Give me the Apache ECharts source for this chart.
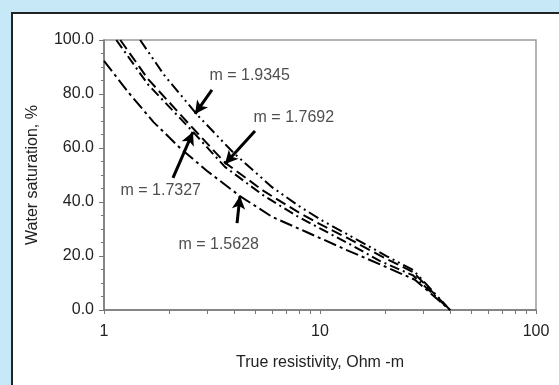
<!DOCTYPE html>
<html><head><meta charset="utf-8">
<script src="https://cdn.jsdelivr.net/npm/echarts@6/dist/echarts.min.js"></script>
<style>
html,body{margin:0;padding:0;background:#c6e8f7;width:559px;height:385px;overflow:hidden;position:relative;}
#panel{position:absolute;left:11px;top:12px;width:600px;height:400px;background:#fff;border:2px solid #222;box-sizing:border-box;}
#c{position:absolute;left:0;top:0;width:559px;height:385px;}
</style>
</head><body><div id="panel"></div><div id="c"></div>
<script>
// Tick values and labels
const xTickValues = [1,2,3,4,5,6,7,8,9,10,20,30,40,50,60,70,80,90,100];
const xLabelValues = [1,10,100];
const yMin = 0, yMax = 100, yStep = 20;

// Series: [true resistivity, water saturation]
const m19345 = [[1.47,100],[1.9,87],[2.7,72.3],[4,58],[6,45.5],[8,38.5],[10.3,33],[14.2,26.9],[20.4,19.9],[27,14.8],[40,0]];
const m17692 = [[1.19,100],[1.6,85.5],[2.5,68.5],[3.63,54.6],[5.5,44],[7.83,36.5],[10,31.8],[13.3,26.8],[18.9,20.2],[27,14],[40,0]];
const m17327 = [[1.14,100],[1.6,83.5],[2.58,66],[3.63,53],[5.5,42.3],[7.83,34.8],[10,30.2],[13.3,25],[18.9,18.2],[27,12.8],[40,0]];
const m15628 = [[1.0,92.3],[1.3,80.5],[1.7,69.5],[2.25,60],[3,51.5],[4.26,42.2],[6,34.5],[8.7,28.8],[13.3,22.2],[20.4,15.8],[27.5,11.2],[40,0]];

// Annotations: label text, label anchor, arrow tail, arrow tip (data coords)
const annLabels = ['m = 1.9345','m = 1.7692','m = 1.7327','m = 1.5628'];
const annText = [[3.06,86.7],[4.9,71.1],[1.186,44.4],[2.2,24.1]];
const annTail = [[3.16,81.5],[5.0,66.3],[2.086,48.9],[4.13,32.2]];
const annTip  = [[2.64,72.6],[3.63,54.1],[2.58,65.9],[4.26,42.2]];

const FONT = 'Liberation Sans, Arial, sans-serif';
const chart = echarts.init(document.getElementById('c'), null, {renderer:'canvas'});

function lineSeries(data, dash){
  return {type:'line', data:data, showSymbol:false, symbol:'none', silent:true,
    lineStyle:{color:'#000', width:2, type:dash}, z:3};
}

chart.setOption({
  backgroundColor:'transparent',
  animation:false,
  grid:{left:104, right:23, top:40, bottom:75, show:true, borderColor:'#9a9a9a', borderWidth:1.5, backgroundColor:'#fff'},
  xAxis:{type:'log', logBase:10, min:1, max:100,
    name:'True resistivity, Ohm -m', nameLocation:'middle', nameGap:45,
    nameTextStyle:{fontFamily:FONT, fontSize:16, color:'#222'},
    axisLine:{lineStyle:{color:'#777', width:1.5}},
    axisTick:{show:true, length:4, lineStyle:{color:'#777'}, customValues:xTickValues},
    axisLabel:{fontFamily:FONT, fontSize:16, color:'#222', margin:14, customValues:xLabelValues},
    splitLine:{show:false}, minorTick:{show:false}
  },
  yAxis:{type:'value', min:yMin, max:yMax, interval:yStep,
    name:'Water saturation, %', nameLocation:'middle', nameGap:63,
    nameTextStyle:{fontFamily:FONT, fontSize:16, color:'#222'},
    axisLine:{show:true, lineStyle:{color:'#777', width:1.5}},
    axisTick:{show:true, length:5, lineStyle:{color:'#777'}},
    minorTick:{show:true, splitNumber:4, length:3, lineStyle:{color:'#777'}},
    axisLabel:{fontFamily:FONT, fontSize:16, color:'#222', margin:10, formatter:v=>v.toFixed(1)},
    splitLine:{show:false}
  },
  series:[
    lineSeries(m19345,[11,4,2,4,2,4]),
    lineSeries(m17692,[11,5]),
    lineSeries(m17327,[10,4,2,4]),
    lineSeries(m15628,[13,4,3,4]),
    {type:'scatter', silent:true, symbolSize:1, itemStyle:{color:'rgba(0,0,0,0)'},
      data:annLabels.map((t,i)=>({name:t, value:annText[i]})),
      label:{show:true, position:'right', distance:0, formatter:p=>p.name,
        fontFamily:FONT, fontSize:16, color:'#222'},
      markLine:{silent:true, symbol:['none','arrow'], symbolSize:[10,13], animation:false,
        label:{show:false}, lineStyle:{type:'solid', color:'#000', width:3},
        emphasis:{disabled:true},
        data:annTail.map((t,i)=>[{coord:t},{coord:annTip[i]}])
      },
      z:5}
  ]
});
</script>
</body></html>
